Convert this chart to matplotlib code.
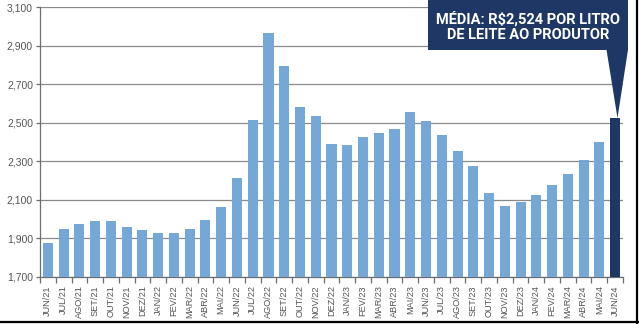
import numpy as np
import matplotlib
matplotlib.use('Agg')
import matplotlib.pyplot as plt
from matplotlib.patches import Polygon, Rectangle
from matplotlib.lines import Line2D

# Monthly milk price paid to producers (R$/litre)
months = ['JUN/21', 'JUL/21', 'AGO/21', 'SET/21', 'OUT/21', 'NOV/21', 'DEZ/21',
          'JAN/22', 'FEV/22', 'MAR/22', 'ABR/22', 'MAI/22', 'JUN/22', 'JUL/22',
          'AGO/22', 'SET/22', 'OUT/22', 'NOV/22', 'DEZ/22', 'JAN/23', 'FEV/23',
          'MAR/23', 'ABR/23', 'MAI/23', 'JUN/23', 'JUL/23', 'AGO/23', 'SET/23',
          'OUT/23', 'NOV/23', 'DEZ/23', 'JAN/24', 'FEV/24', 'MAR/24', 'ABR/24',
          'MAI/24', 'JUN/24']
price = [1.878, 1.947, 1.973, 1.990, 1.991, 1.958, 1.944,
         1.928, 1.926, 1.947, 1.994, 2.064, 2.211, 2.512,
         2.967, 2.792, 2.583, 2.537, 2.388, 2.383, 2.424,
         2.448, 2.469, 2.557, 2.507, 2.438, 2.352, 2.274,
         2.135, 2.069, 2.089, 2.125, 2.175, 2.236, 2.307,
         2.399, 2.524]
yticks = [1.7, 1.9, 2.1, 2.3, 2.5, 2.7, 2.9, 3.1]
ytick_labels = ['1,700', '1,900', '2,100', '2,300', '2,500', '2,700', '2,900', '3,100']
callout = 'MÉDIA: R$2,524 POR LITRO\nDE LEITE AO PRODUTOR'

light = '#76a8d7'
navy = '#1f3764'
grey = '#6e6e6e'
plt.rcParams['font.family'] = ['Liberation Sans', 'DejaVu Sans']

fig = plt.figure(figsize=(6.39, 3.24), dpi=100)
ax = fig.add_axes([40/639, 47/324, 583/639, 270/324])

x = np.arange(len(months))
colors = [light] * (len(months) - 1) + [navy]
ax.bar(x, np.array(price) - 1.7, bottom=1.7, width=0.64, color=colors, zorder=3)

ax.set_xlim(-0.5, len(months) - 0.5)
ax.set_ylim(1.7, 3.1)
ax.set_yticks(yticks)
ax.set_yticklabels(ytick_labels, fontsize=7.5, color='#555555')
ax.yaxis.grid(True, color='#8a8a8a', linewidth=0.9, zorder=0)
ax.tick_params(axis='y', length=3, width=0.9, color=grey, pad=2)

# labels under bars, tick marks between bars
ax.set_xticks(x)
ax.set_xticklabels(months, rotation=90, fontsize=6.6, color='#555555')
ax.tick_params(axis='x', which='major', length=0, pad=6)
ax.set_xticks(np.arange(-0.5, len(months)), minor=True)
ax.tick_params(axis='x', which='minor', length=4, width=0.9, color=grey)

for side in ['top', 'right']:
    ax.spines[side].set_visible(False)
for side in ['left', 'bottom']:
    ax.spines[side].set_color(grey)
    ax.spines[side].set_linewidth(0.9)

# callout box with pointer to the last bar
last = len(months) - 1
box = Rectangle((24.12, 2.877), 12.7, 0.27, transform=ax.transData,
                facecolor=navy, edgecolor='none', clip_on=False, zorder=5)
ax.add_patch(box)
tri = Polygon([(35.45, 2.88), (36.82, 2.88), (last + 0.15, price[-1])],
              closed=True, facecolor=navy, edgecolor='none', clip_on=False, zorder=5)
ax.add_patch(tri)
ax.text(30.47, 3.0, callout, ha='center', va='center', color='white',
        fontsize=10.5, fontweight='bold', family=['Roboto', 'DejaVu Sans'],
        fontstretch='condensed', linespacing=1.1, zorder=6, clip_on=False)

# frame lines along bottom and right edge
fig.add_artist(Line2D([0, 1], [2/324, 2/324], transform=fig.transFigure,
                      color='black', linewidth=1.6))
fig.add_artist(Line2D([637/639, 637/639], [0, 1], transform=fig.transFigure,
                      color='black', linewidth=1.6))

fig.savefig('out.png', dpi=100)
